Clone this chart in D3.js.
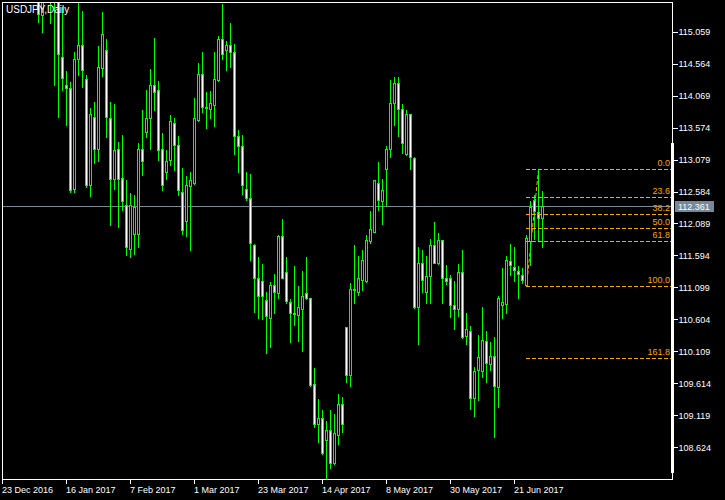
<!DOCTYPE html>
<html>
<head>
<meta charset="utf-8">
<script src="https://cdn.jsdelivr.net/npm/d3@7/dist/d3.min.js"></script>
<style>
  html, body { margin: 0; padding: 0; background: #000; }
  svg { display: block; }
  text { font-family: "Liberation Sans", Arial, sans-serif; font-size: 9px; }
</style>
</head>
<body>
<svg id="chart" width="725" height="500"></svg>
<script>
// ---------------- DATA ----------------
const dates = [
  "2016-12-23","2016-12-26","2016-12-27","2016-12-28","2016-12-29","2016-12-30",
  "2017-01-02","2017-01-03","2017-01-04","2017-01-05","2017-01-06","2017-01-09","2017-01-10","2017-01-11","2017-01-12","2017-01-13",
  "2017-01-16","2017-01-17","2017-01-18","2017-01-19","2017-01-20","2017-01-23","2017-01-24","2017-01-25","2017-01-26","2017-01-27",
  "2017-01-30","2017-01-31","2017-02-01","2017-02-02","2017-02-03","2017-02-06","2017-02-07","2017-02-08","2017-02-09","2017-02-10",
  "2017-02-13","2017-02-14","2017-02-15","2017-02-16","2017-02-17","2017-02-20","2017-02-21","2017-02-22","2017-02-23","2017-02-24",
  "2017-02-27","2017-02-28","2017-03-01","2017-03-02","2017-03-03","2017-03-06","2017-03-07","2017-03-08","2017-03-09","2017-03-10",
  "2017-03-13","2017-03-14","2017-03-15","2017-03-16","2017-03-17","2017-03-20","2017-03-21","2017-03-22","2017-03-23","2017-03-24",
  "2017-03-27","2017-03-28","2017-03-29","2017-03-30","2017-03-31","2017-04-03","2017-04-04","2017-04-05","2017-04-06","2017-04-07",
  "2017-04-10","2017-04-11","2017-04-12","2017-04-13","2017-04-14","2017-04-17","2017-04-18","2017-04-19","2017-04-20","2017-04-21",
  "2017-04-24","2017-04-25","2017-04-26","2017-04-27","2017-04-28","2017-05-01","2017-05-02","2017-05-03","2017-05-04","2017-05-05",
  "2017-05-08","2017-05-09","2017-05-10","2017-05-11","2017-05-12","2017-05-15","2017-05-16","2017-05-17","2017-05-18","2017-05-19",
  "2017-05-22","2017-05-23","2017-05-24","2017-05-25","2017-05-26","2017-05-29","2017-05-30","2017-05-31","2017-06-01","2017-06-02",
  "2017-06-05","2017-06-06","2017-06-07","2017-06-08","2017-06-09","2017-06-12","2017-06-13","2017-06-14","2017-06-15","2017-06-16",
  "2017-06-19","2017-06-20","2017-06-21","2017-06-22","2017-06-23","2017-06-26","2017-06-27","2017-06-28","2017-06-29","2017-06-30"
];

const open = [
  117.55,117.25,117.40,117.45,117.20,116.50,116.90,117.50,117.80,117.20,115.32,116.90,116.10,115.75,115.60,114.67,
  114.23,114.18,112.62,114.63,114.85,114.32,112.68,113.74,113.24,114.50,114.78,113.73,112.77,113.24,112.79,112.38,
  111.70,111.92,111.92,113.24,113.51,113.72,114.23,114.16,113.24,112.88,113.07,113.65,113.30,112.57,112.12,112.67,
  112.71,113.69,114.41,113.88,113.86,113.93,114.31,114.94,114.77,114.85,114.74,113.45,113.29,112.63,112.49,111.76,
  111.25,111.20,110.91,110.63,111.13,111.01,111.89,111.34,110.88,110.70,110.67,110.77,111.01,110.93,109.60,108.99,
  109.08,108.73,108.89,108.38,108.81,109.30,110.48,109.74,111.06,111.03,111.21,111.20,111.81,111.96,112.72,112.44,
  112.94,113.25,113.96,114.27,113.86,113.16,113.78,113.11,110.79,111.47,111.02,111.28,111.76,111.47,111.83,111.24,
  111.24,110.82,110.77,111.34,110.34,110.42,109.39,109.82,109.80,110.27,109.91,110.03,109.55,110.82,110.84,111.51,
  111.42,111.36,111.29,111.13,111.82,112.46,112.27,112.17
];
const high = [
  117.85,117.50,117.80,117.80,117.30,117.20,117.80,118.60,118.20,117.40,117.00,117.00,116.40,116.85,115.70,115.45,
  114.47,114.29,114.76,115.52,115.40,114.41,113.90,113.99,114.86,115.38,114.96,113.98,113.95,113.37,113.47,112.77,
  112.57,112.54,113.35,113.86,114.17,114.49,114.97,114.31,113.50,113.24,113.78,113.74,113.46,112.97,112.84,112.90,
  114.04,114.59,114.76,114.14,114.16,114.76,115.01,115.51,114.93,115.21,114.88,113.55,113.48,112.90,112.87,111.78,
  111.58,111.47,111.04,111.20,111.32,111.93,112.18,111.58,110.93,111.44,111.13,111.37,111.58,110.94,109.86,109.39,
  109.21,109.04,109.21,109.16,109.47,109.41,110.50,111.19,111.77,111.60,111.70,111.92,112.30,112.78,113.06,112.80,
  113.30,114.33,114.37,114.37,113.95,113.86,113.80,113.13,111.74,111.69,111.60,111.87,112.13,111.96,111.84,111.46,
  111.30,111.22,111.47,111.70,110.72,110.51,109.88,110.37,110.81,110.44,110.27,110.34,110.98,111.42,111.60,111.78,
  111.74,111.44,111.42,111.93,112.46,112.55,112.93,112.61
];
const low = [
  117.10,117.10,117.20,116.80,116.05,116.05,116.70,117.20,116.90,115.21,115.06,115.90,115.20,114.23,113.74,114.15,
  113.61,112.58,112.57,114.39,114.21,112.66,112.51,113.03,113.05,114.37,113.43,112.06,112.62,112.04,112.30,111.60,
  111.57,111.61,111.73,112.84,113.43,113.24,113.85,113.07,112.61,112.77,112.99,112.91,112.53,111.92,111.90,111.68,
  112.70,113.68,113.81,113.56,113.73,113.60,114.30,114.64,114.47,114.52,113.16,112.89,112.55,112.45,111.52,110.72,
  110.62,110.61,110.09,110.17,110.71,110.93,111.24,110.85,110.26,110.51,110.27,110.12,110.92,109.57,108.94,108.71,
  108.52,108.14,108.30,108.36,108.68,108.86,109.64,109.57,110.86,110.98,111.06,111.19,111.78,111.95,112.30,112.08,
  112.37,113.12,113.61,113.44,113.18,113.15,112.93,110.78,110.22,111.03,110.86,110.85,111.47,111.46,110.86,111.15,
  110.64,110.45,110.66,110.32,110.22,109.21,109.10,109.36,109.71,109.63,109.82,108.78,109.25,110.63,110.71,111.29,
  111.20,110.94,111.16,111.12,111.45,111.85,111.82,111.72
];
const close = [
  117.25,117.40,117.45,117.20,116.50,116.90,117.50,117.80,117.20,115.34,116.90,116.10,115.75,115.60,114.71,114.34,
  114.18,112.60,114.63,114.85,114.46,112.68,113.79,113.25,114.51,115.03,113.74,112.78,113.23,112.78,112.44,111.72,
  112.37,112.35,113.25,113.06,113.73,114.24,114.13,113.22,112.69,113.06,113.67,113.31,112.60,111.99,112.68,112.76,
  113.72,114.41,113.89,113.90,113.96,114.32,114.94,114.72,114.85,114.74,113.45,113.29,112.69,112.49,111.78,111.25,
  110.97,110.96,110.65,111.13,111.02,111.89,111.25,110.89,110.71,110.68,110.79,110.96,110.93,109.58,108.99,109.07,
  108.53,108.89,108.38,108.84,109.30,108.98,109.74,111.08,111.07,111.24,111.52,111.83,112.00,112.76,112.46,112.61,
  113.25,113.96,114.27,113.86,113.33,113.78,113.12,110.79,111.47,111.22,111.28,111.76,111.48,111.83,111.25,111.20,
  110.82,110.77,111.34,110.33,110.46,109.39,109.81,110.02,110.29,109.93,110.04,109.57,110.94,110.88,111.52,111.44,
  111.37,111.30,111.22,111.86,112.35,112.28,112.17,112.36
];

const priceTicks = [115.059,114.564,114.069,113.574,113.079,112.584,112.089,111.594,111.099,110.604,110.109,109.614,109.119,108.624];
const dateTicks = ["2016-12-23","2017-01-16","2017-02-07","2017-03-01","2017-03-23","2017-04-14","2017-05-08","2017-05-30","2017-06-21"];
const fibLevels = [0, 23.6, 38.2, 50.0, 61.8, 100.0, 161.8];
const fibLabels = ["0.0","23.6","38.2","50.0","61.8","100.0","161.8"];
const fibHigh = 112.93, fibLow = 111.12;
const fibHighDate = "2017-06-29", fibLowDate = "2017-06-26";
const lastPrice = 112.361;
const title = "USDJPY,Daily";

// ---------------- DRAW ----------------
const svg = d3.select("#chart");
const L = 2, T = 2, R = 672, B = 479;

const x = d3.scaleBand().domain(dates).range([0.5, 0.5 + dates.length * 4]).padding(0);
const cx = d => x(d) + 2;
const y = d3.scaleLinear().domain([108.624, 115.059]).range([447.2, 31.7]);

svg.append("rect").attr("width", 725).attr("height", 500).attr("fill", "#000");

svg.append("defs").append("clipPath").attr("id", "plot")
  .append("rect").attr("x", L + 1).attr("y", T + 1).attr("width", R - L - 1).attr("height", B - T - 1);

const plot = svg.append("g").attr("clip-path", "url(#plot)").attr("shape-rendering", "crispEdges");

// current price line
plot.append("line")
  .attr("x1", L).attr("x2", R)
  .attr("y1", Math.round(y(lastPrice)) + 0.5).attr("y2", Math.round(y(lastPrice)) + 0.5)
  .attr("stroke", "#778899");

const bars = dates.map((d, i) => ({ d, o: open[i], h: high[i], l: low[i], c: close[i] }));
const snap = v => Math.round(v) + 0.5;

// fib trend line (behind candles)
const fibColor = "#FFA500";
plot.append("line")
  .attr("x1", cx(fibLowDate)).attr("y1", snap(y(fibLow)))
  .attr("x2", cx(fibHighDate)).attr("y2", snap(y(fibHigh)))
  .attr("stroke", fibColor).attr("stroke-dasharray", "4,2")
  .attr("shape-rendering", "auto");

const cg = plot.append("g");
cg.selectAll("line.wick").data(bars).join("line")
  .attr("class", "wick")
  .attr("x1", b => cx(b.d)).attr("x2", b => cx(b.d))
  .attr("y1", b => snap(y(b.h))).attr("y2", b => snap(y(b.l)))
  .attr("stroke", "#00ff00");

cg.selectAll("rect.body").data(bars).join("rect")
  .attr("class", "body")
  .attr("x", b => cx(b.d) - 1)
  .attr("y", b => snap(y(Math.max(b.o, b.c))))
  .attr("width", 2)
  .attr("height", b => Math.max(0, snap(y(Math.min(b.o, b.c))) - snap(y(Math.max(b.o, b.c)))))
  .attr("fill", b => b.c >= b.o ? "#000" : "#fff")
  .attr("stroke", "#00ff00");

// fib levels
const fibG = svg.append("g");
fibLevels.forEach((lv, i) => {
  const p = fibHigh - (fibHigh - fibLow) * lv / 100;
  const yy = snap(y(p));
  fibG.append("line")
    .attr("x1", cx(fibLowDate) - 0.5).attr("x2", R)
    .attr("y1", yy).attr("y2", yy)
    .attr("stroke", fibColor).attr("stroke-width", 1).attr("stroke-dasharray", "4,2")
    .attr("shape-rendering", "crispEdges");
  fibG.append("text")
    .attr("x", R - 2).attr("y", yy - 4)
    .attr("text-anchor", "end")
    .attr("fill", fibColor)
    .text(fibLabels[i]);
});

// frame
svg.append("rect")
  .attr("x", L + 0.5).attr("y", T + 0.5).attr("width", R - L).attr("height", B - T)
  .attr("fill", "none").attr("stroke", "#fff").attr("shape-rendering", "crispEdges");
svg.append("rect")
  .attr("x", R - 1).attr("y", 143).attr("width", 3).attr("height", 473 - 143)
  .attr("fill", "#fff");

// right axis
const ay = svg.append("g").attr("transform", `translate(${R + 0.5},0)`)
  .call(d3.axisRight(y).tickValues(priceTicks).tickSize(5).tickPadding(1).tickFormat(d3.format(".3f")));
ay.select(".domain").remove();
ay.selectAll("line").attr("stroke", "#fff").attr("shape-rendering", "crispEdges");
ay.selectAll("text").attr("fill", "#fff").style("font-size", "9px").attr("font-family", null);

// current price label
const ly = Math.round(y(lastPrice));
svg.append("rect").attr("x", 675).attr("y", ly - 5).attr("width", 39).attr("height", 11).attr("fill", "#778899");
svg.append("text").attr("x", 678).attr("y", ly + 4).attr("fill", "#fff").text(d3.format(".3f")(lastPrice));

// bottom axis
const fmt = d3.timeFormat("%-d %b %Y");
const parse = d3.timeParse("%Y-%m-%d");
const ax = svg.append("g").attr("transform", `translate(0,${B + 0.5})`)
  .call(d3.axisBottom(x).tickValues(dateTicks).tickSize(4).tickFormat(d => fmt(parse(d))));
ax.select(".domain").remove();
ax.selectAll(".tick").attr("transform", d => `translate(${cx(d) - 0.5},0)`);
ax.selectAll("line").attr("stroke", "#fff").attr("shape-rendering", "crispEdges");
ax.selectAll("text").attr("fill", "#fff").attr("text-anchor", "start").attr("x", 0).attr("y", 13).attr("dy", null)
  .style("font-size", "9px").attr("font-family", null);

// title
svg.append("text").attr("x", 6).attr("y", 13).attr("fill", "#fff").style("font-size", "10px").text(title);
</script>
</body>
</html>
